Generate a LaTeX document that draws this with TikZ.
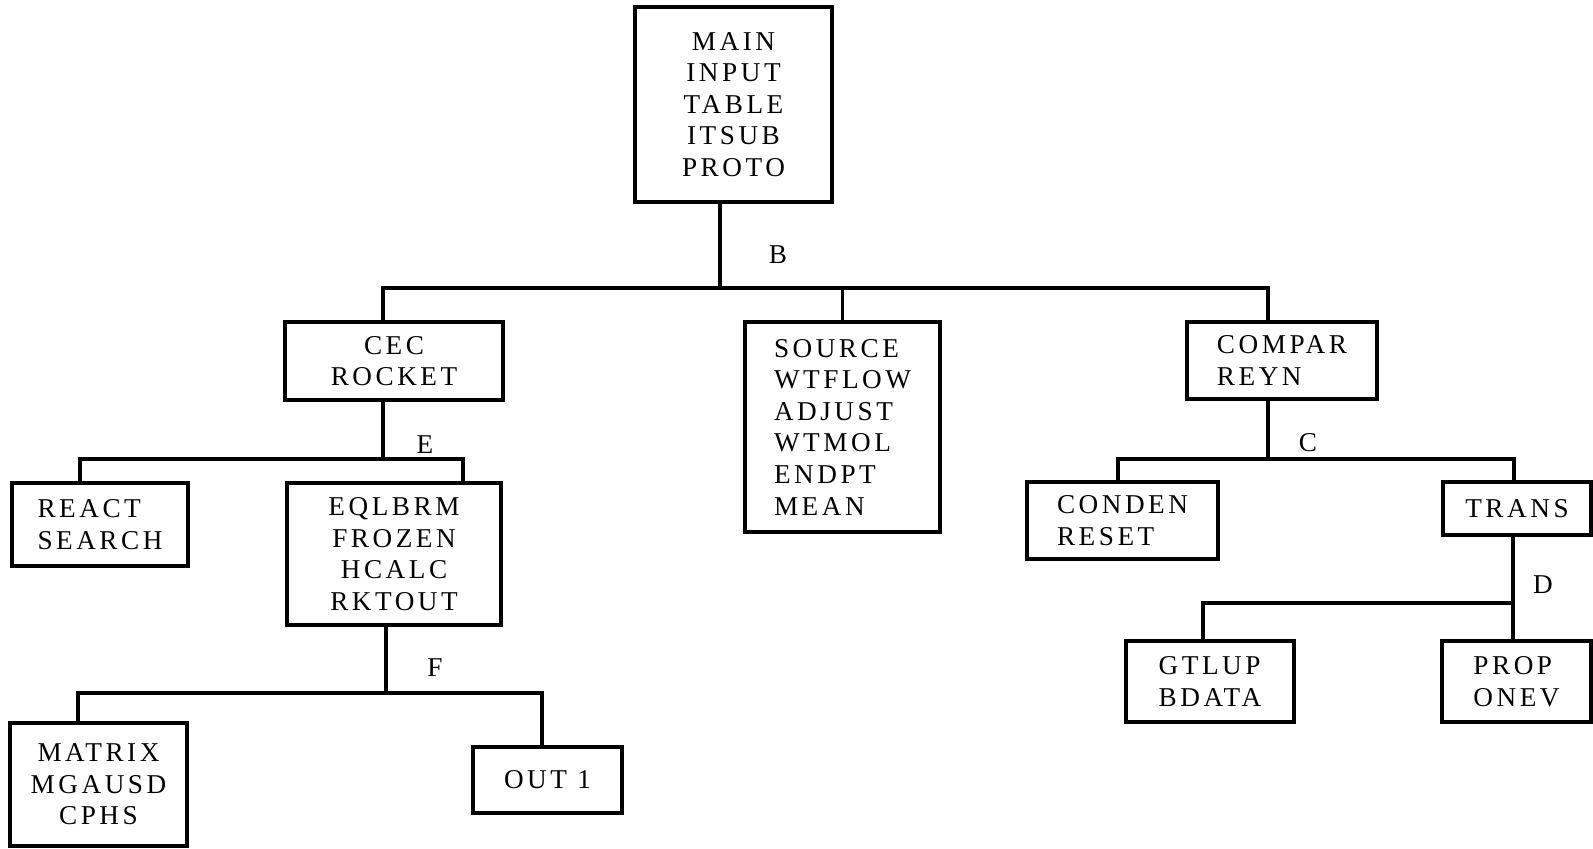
\documentclass[tikz,border=0pt]{standalone}
\usepackage{fontspec}
\setmainfont{Liberation Serif}[LetterSpace=13]

\begin{document}
\begin{tikzpicture}[x=0.5pt, y=-0.5pt, line width=1.6pt,
  modbox/.style={draw, line width=1.6pt, inner sep=0pt, font=\fontsize{13.6}{15.8}\selectfont},
  tag/.style={font=\fontsize{13.6}{15.8}\selectfont}]
  \useasboundingbox (0,0) rectangle (1593,848);

  % Modules
  \node[modbox, align=center, minimum width=98.5pt, minimum height=97.5pt] (main) at (733.5,104.5) {MAIN\\INPUT\\TABLE\\ITSUB\\PROTO};
  \node[modbox, align=center, minimum width=109pt, minimum height=39pt] (cec) at (394,361) {CEC\\ROCKET};
  \node[modbox, align=left, minimum width=97.5pt, minimum height=105pt] (source) at (842.5,427) {SOURCE\\WTFLOW\\ADJUST\\WTMOL\\ENDPT\\MEAN};
  \node[modbox, align=left, minimum width=95pt, minimum height=38.5pt] (compar) at (1282,360.5) {COMPAR\\REYN};
  \node[modbox, align=left, minimum width=88pt, minimum height=41.5pt] (react) at (100,524.5) {REACT\\SEARCH};
  \node[modbox, align=center, minimum width=107pt, minimum height=71pt] (eqlbrm) at (394,554) {EQLBRM\\FROZEN\\HCALC\\RKTOUT};
  \node[modbox, align=left, minimum width=95.5pt, minimum height=38.5pt] (conden) at (1122.5,520.5) {CONDEN\\RESET};
  \node[modbox, minimum width=74pt, minimum height=26.5pt] (trans) at (1517,508.5) {TRANS};
  \node[modbox, align=left, minimum width=84pt, minimum height=40.5pt] (gtlup) at (1210,681.5) {GTLUP\\BDATA};
  \node[modbox, align=left, minimum width=74.5pt, minimum height=40.5pt] (prop) at (1516.5,681.5) {PROP\\ONEV};
  \node[modbox, align=center, minimum width=88.5pt, minimum height=61.5pt] (matrix) at (98.5,784.5) {MATRIX\\MGAUSD\\CPHS};
  \node[modbox, minimum width=74.5pt, minimum height=33pt] (out) at (547.5,780) {OUT 1};

  % Junctions
  \coordinate (jB) at (720,288);
  \coordinate (jE) at (383,459);
  \coordinate (eL) at (80,459);
  \coordinate (eR) at (463,459);
  \coordinate (jF) at (386,693);
  \coordinate (fL) at (78,693);
  \coordinate (fR) at (542,693);
  \coordinate (jC) at (1268,459);
  \coordinate (cL) at (1118,459);
  \coordinate (cR) at (1514,459);
  \coordinate (jD) at (1513,603);
  \coordinate (dL) at (1203,603);

  % Connectors
  \draw (main.south -| jB) -- (jB);
  \draw (cec.north -| jE) |- (jB) -| (compar.north -| jC);
  \draw (source.north) -- (source.north |- jB);
  \draw (cec.south -| jE) -- (jE);
  \draw (react.north -| eL) |- (eR) -- (eqlbrm.north -| eR);
  \draw (eqlbrm.south -| jF) -- (jF);
  \draw (matrix.north -| fL) |- (fR) -- (out.north -| fR);
  \draw (compar.south -| jC) -- (jC);
  \draw (conden.north -| cL) |- (cR) -- (trans.north -| cR);
  \draw (trans.south -| jD) -- (prop.north -| jD);
  \draw (gtlup.north -| dL) |- (jD);

  % Branch letters
  \node[tag] (labB) at (778,255) {B};
  \node[tag] (labE) at (425,445) {E};
  \node[tag] (labF) at (435,668) {F};
  \node[tag] (labC) at (1308,443) {C};
  \node[tag] (labD) at (1543,585) {D};
\end{tikzpicture}
\end{document}
